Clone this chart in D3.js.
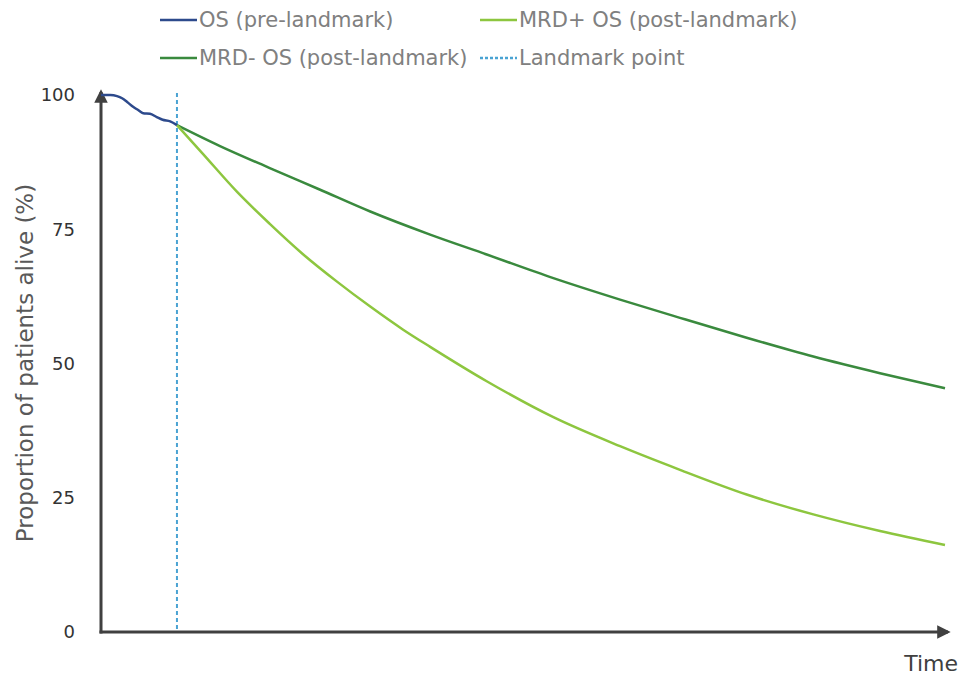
<!DOCTYPE html>
<html>
<head>
<meta charset="utf-8">
<script src="https://cdn.jsdelivr.net/npm/d3@7"></script>
<style>
  html, body { margin: 0; padding: 0; background: #fff; }
  svg { display: block; font-family: "DejaVu Sans", Verdana, sans-serif; }
</style>
</head>
<body>
<svg id="chart" width="960" height="675"></svg>
<script>
// ---- Data (time in arbitrary units, survival in %) ----
const landmarkTime = 9.0;

const preTime  = [0, 1.1, 1.9, 2.5, 3.1, 3.8, 4.4, 5.0, 5.8, 6.6, 7.3, 8.2, 9.0];
const preSurv  = [100, 100, 99.8, 99.4, 98.7, 97.8, 97.2, 96.6, 96.5, 95.9, 95.4, 95.1, 94.4];

const negTime  = [9.0, 14.1, 20.0, 25.9, 31.9, 39.0, 45.7, 53.6, 61.5, 68.6, 76.5, 84.4, 92.3, 100];
const negSurv  = [94.4, 90.5, 86.4, 82.4, 78.3, 74.0, 70.3, 65.9, 61.9, 58.5, 54.8, 51.3, 48.2, 45.4];

const posTime  = [9.0, 12.1, 16.1, 20.0, 23.9, 28.0, 31.9, 35.8, 39.0, 45.7, 53.6, 61.5, 68.6, 76.5, 84.4, 92.3, 100];
const posSurv  = [94.4, 89.0, 82.0, 76.0, 70.4, 65.2, 60.6, 56.3, 53.1, 46.7, 40.0, 34.6, 30.2, 25.6, 21.9, 18.8, 16.2];

const yTicks = [0, 25, 50, 75, 100];
const seriesNames = ["OS (pre-landmark)", "MRD+ OS (post-landmark)", "MRD- OS (post-landmark)", "Landmark point"];
const seriesColors = ["#2d4a8c", "#8dc63f", "#3a8a3e", "#4aa3d3"];

// ---- Layout ----
const svg = d3.select("#chart");
const x = d3.scaleLinear().domain([0, 100]).range([101, 945]);
const y = d3.scaleLinear().domain([0, 100]).range([632, 95]);

const zip = (t, s) => t.map((v, i) => [v, s[i]]);
const line = d3.line().x(d => x(d[0])).y(d => y(d[1])).curve(d3.curveMonotoneX);

// arrow marker
const defs = svg.append("defs");
defs.append("marker")
  .attr("id", "arrow")
  .attr("viewBox", "0 0 10 10")
  .attr("refX", 8).attr("refY", 5)
  .attr("markerWidth", 4.5).attr("markerHeight", 4.5)
  .attr("markerUnits", "strokeWidth")
  .attr("orient", "auto")
  .append("path").attr("d", "M0,0 L10,5 L0,10 Z").attr("fill", "#404040");

// landmark dashed line
svg.append("line")
  .attr("x1", x(landmarkTime)).attr("x2", x(landmarkTime))
  .attr("y1", y(100) - 2).attr("y2", y(0))
  .attr("stroke", seriesColors[3]).attr("stroke-width", 2)
  .attr("stroke-dasharray", "4,3");

// axes lines with arrows
svg.append("line")
  .attr("x1", x(0)).attr("y1", y(0) + 1.5)
  .attr("x2", x(0)).attr("y2", y(100) - 3)
  .attr("stroke", "#404040").attr("stroke-width", 3)
  .attr("marker-end", "url(#arrow)");
svg.append("line")
  .attr("x1", x(0) - 1.5).attr("y1", y(0))
  .attr("x2", x(100) + 3).attr("y2", y(0))
  .attr("stroke", "#404040").attr("stroke-width", 3)
  .attr("marker-end", "url(#arrow)");

// y tick labels via axis
const yAxis = d3.axisLeft(y).tickValues(yTicks).tickSize(0).tickPadding(26);
const gy = svg.append("g").attr("transform", `translate(${x(0)},0)`).call(yAxis);
gy.select(".domain").remove();
gy.selectAll("text")
  .attr("font-family", "'DejaVu Sans', Verdana, sans-serif")
  .attr("font-size", 18).attr("fill", "#333");

// curves
svg.append("path").datum(zip(negTime, negSurv))
  .attr("d", line).attr("fill", "none")
  .attr("stroke", seriesColors[2]).attr("stroke-width", 2.5);
svg.append("path").datum(zip(posTime, posSurv))
  .attr("d", line).attr("fill", "none")
  .attr("stroke", seriesColors[1]).attr("stroke-width", 2.5);
svg.append("path").datum(zip(preTime, preSurv))
  .attr("d", line).attr("fill", "none")
  .attr("stroke", seriesColors[0]).attr("stroke-width", 2.5);

// axis titles
svg.append("text")
  .attr("transform", `translate(33,363) rotate(-90)`)
  .attr("text-anchor", "middle")
  .attr("font-size", 23).attr("fill", "#595959")
  .text("Proportion of patients alive (%)");
svg.append("text")
  .attr("x", 958).attr("y", 671)
  .attr("text-anchor", "end")
  .attr("font-size", 22).attr("fill", "#404040")
  .text("Time");

// legend
const legendPos = [[160, 20], [480, 20], [160, 58], [480, 58]];
seriesNames.forEach((name, i) => {
  const [lx, ly] = legendPos[i];
  const g = svg.append("g").attr("transform", `translate(${lx},${ly})`);
  g.append("line")
    .attr("x1", 0).attr("x2", 37).attr("y1", 0).attr("y2", 0)
    .attr("stroke", seriesColors[i]).attr("stroke-width", 2.5)
    .attr("stroke-dasharray", i === 3 ? "3,2" : null);
  g.append("text")
    .attr("x", 39).attr("y", 0).attr("dy", "0.35em")
    .attr("font-size", 21).attr("fill", "#808080")
    .text(name);
});
</script>
</body>
</html>
